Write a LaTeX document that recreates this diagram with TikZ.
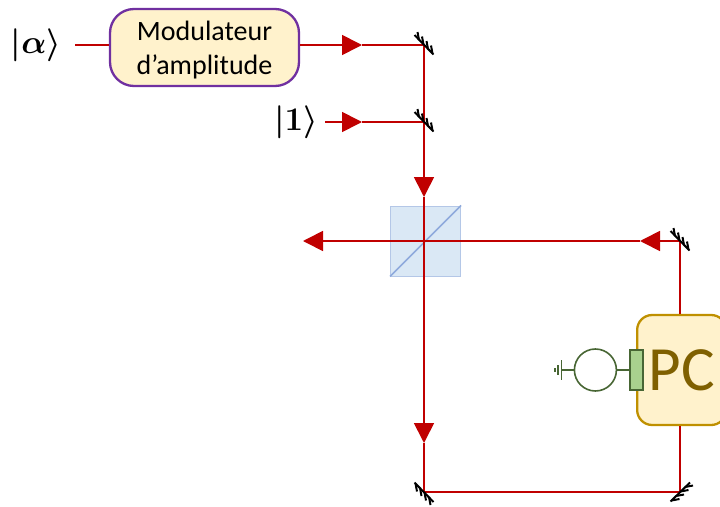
\RequirePackage{fix-cm}
\documentclass[tikz,border=0pt]{standalone}
\usepackage{fontspec}
\setmainfont{Carlito}
\usetikzlibrary{arrows.meta,positioning,calc}
\definecolor{beamred}{RGB}{192,0,0}
\definecolor{modviolet}{RGB}{112,48,160}
\definecolor{boxcream}{RGB}{255,242,204}
\definecolor{pcgold}{RGB}{191,144,0}
\definecolor{pctext}{RGB}{127,96,0}
\definecolor{splitfill}{RGB}{218,232,245}
\definecolor{splitedge}{RGB}{180,199,231}
\definecolor{splitdiag}{RGB}{143,170,220}
\definecolor{padgreen}{RGB}{169,209,142}
\definecolor{wiregreen}{RGB}{72,102,52}
\tikzset{
  beam/.style={line width=1.7pt, draw=beamred},
  flow/.style={beam, -{Triangle[length=20pt,width=20pt]}},
  wire/.style={line width=1.6pt, draw=wiregreen},
  ket/.style={font=\fontsize{33}{36}\selectfont\boldmath, inner sep=0pt},
  mirror/.pic={
    \draw[line width=2pt, black] (-9.5,-10) -- (9.5,9.5);
    \foreach \t in {-5,-0.5,4,8.5}
      \draw[line width=2pt, black] (\t,\t) -- (\t-1.5,\t-8);
  }
}
\begin{document}
\begin{tikzpicture}[x=1pt,y=-1pt]
      \path[use as bounding box, clip] (0,0) rectangle (720,506);
      \node[rectangle, draw=splitedge, line width=1pt, fill=splitfill, minimum size=70pt, inner sep=0pt] (split) at (425.5,241) {};
      \draw[line width=1.7pt, splitdiag] (split.south west) -- (split.north east);
      \node[draw=modviolet, line width=2.3pt, fill=boxcream, rounded corners=24pt, minimum width=189pt, minimum height=77pt, align=center, inner sep=0pt, font=\fontsize{28}{34}\selectfont] (modul) at (204.5,47.5) {\rule{0pt}{25pt}Modulateur\\d’amplitude};
      \node[draw=pcgold, line width=2.3pt, fill=boxcream, rounded corners=15pt, minimum width=89pt, minimum height=110pt, inner sep=0pt, text=pctext, font=\fontsize{63}{63}\selectfont, anchor=west] (pc) at (636,370) {PC};
      \node[ket] (alpha) at (36,45) {$|\alpha\rangle$};
      \node[ket] (one) at (296,122) {$|1\rangle$};
      \coordinate (alphaout) at (75,45);
      \coordinate (oneout) at (325,122);
      \coordinate (mirrora) at (424,45);
      \coordinate (mirrorb) at (424,122);
      \coordinate (mirrorc) at (680,241);
      \coordinate (mirrord) at (424,492);
      \coordinate (mirrore) at (680,492);
      \coordinate (tipa) at (362,45);
      \coordinate (tipb) at (362,122);
      \coordinate (tipc) at (424,197);
      \coordinate (tipd) at (424,443);
      \coordinate (tipe) at (640,241);
      \coordinate (tipf) at (303,241);
      \draw[beam] (alphaout) -- (modul.west |- alphaout);
      \draw[flow] (modul.east |- tipa) -- (tipa);
      \draw[beam] (tipa) -- (mirrora);
      \draw[flow] (oneout) -- (tipb);
      \draw[beam] (tipb) -- (mirrorb);
      \draw[flow] (mirrora) -- (tipc);
      \draw[flow] (tipc) -- (tipd);
      \draw[beam] (tipd) -- (mirrord);
      \draw[flow] (mirrorc) -- (tipe);
      \draw[flow] (tipe) -- (tipf);
      \draw[beam] (mirrorc) -- (mirrorc |- pc.north);
      \draw[beam] (mirrore |- pc.south) -- (mirrore);
      \draw[beam] (mirrord) -- (mirrore);
      \pic at (mirrora) {mirror};
      \pic at (mirrorb) {mirror};
      \pic at (mirrorc) {mirror};
      \pic[rotate=180] at (mirrord) {mirror};
      \pic[rotate=-90] at (mirrore) {mirror};
      \node[draw=wiregreen, line width=1.6pt, fill=padgreen, minimum width=13pt, minimum height=40pt, inner sep=0pt] (pad) at (636.5,370) {};
      \node[circle, draw=wiregreen, line width=1.6pt, fill=white, minimum size=42pt, inner sep=0pt, left=12pt of pad] (meter) {};
      \coordinate[left=12pt of meter] (earth);
      \draw[wire] (pad) -- (meter);
      \draw[wire] (meter) -- (earth);
      \draw[wire] ($(earth)+(0,-10)$) -- ($(earth)+(0,10)$);
      \draw[wire] ($(earth)+(-3.5,-5)$) -- ($(earth)+(-3.5,5)$);
      \draw[wire] ($(earth)+(-6.5,-2)$) -- ($(earth)+(-6.5,2)$);
    \end{tikzpicture}
\end{document}
